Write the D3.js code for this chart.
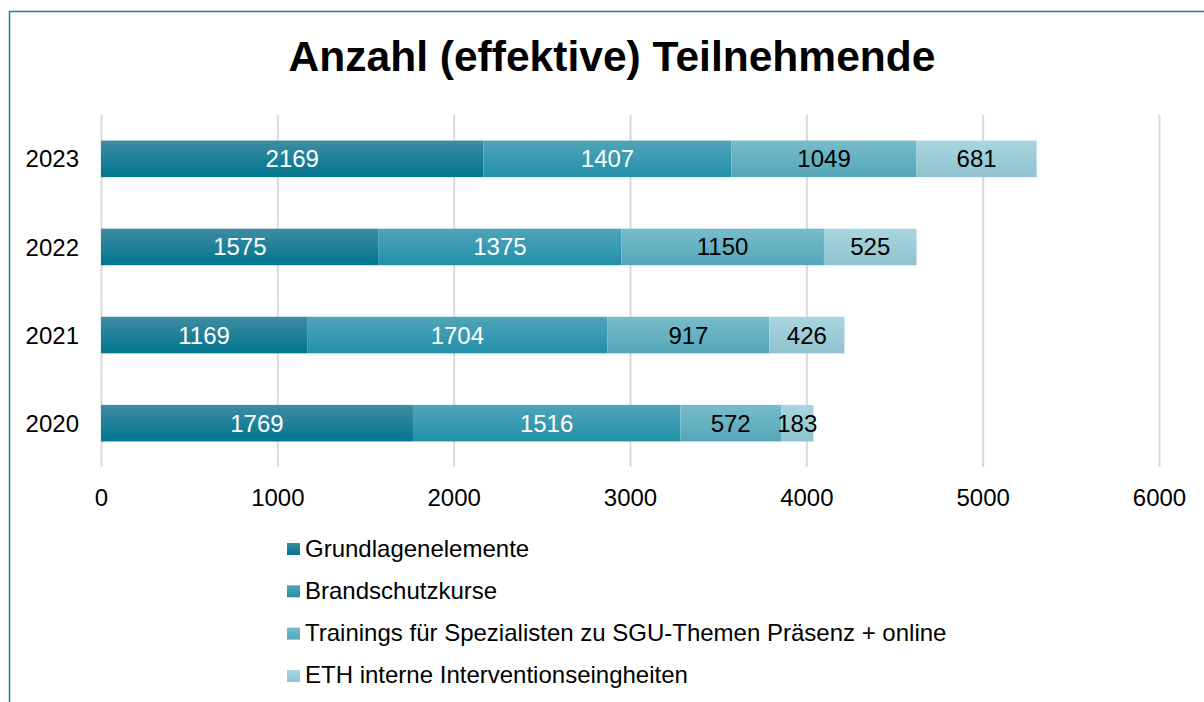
<!DOCTYPE html>
<html>
<head>
<meta charset="utf-8">
<script src="https://cdn.jsdelivr.net/npm/d3@7"></script>
<style>
  body { margin: 0; background: #fff; }
  svg text { font-family: "Liberation Sans", Arial, sans-serif; }
</style>
</head>
<body>
<div id="chart"></div>
<script>
// data
var years = ["2023", "2022", "2021", "2020"];
var seriesNames = ["Grundlagenelemente", "Brandschutzkurse",
  "Trainings für Spezialisten zu SGU-Themen Präsenz + online",
  "ETH interne Interventionseingheiten"];
var grundlagen = [2169, 1575, 1169, 1769];
var brandschutz = [1407, 1375, 1704, 1516];
var trainings = [1049, 1150, 917, 572];
var eth = [681, 525, 426, 183];
var xTicks = [0, 1000, 2000, 3000, 4000, 5000, 6000];

// colours: top / bottom of each gradient, label colour
var tops = ["#3f8ca2", "#4fa5b9", "#77bccb", "#a9d6e0"];
var bottoms = ["#00758f", "#2290a8", "#55a7ba", "#8fc3ce"];
var labelCol = ["#fff", "#fff", "#000", "#000"];

var width = 1204, height = 702;
var margin = {top: 115, left: 101, right: 45, bottom: 235};

var svg = d3.select("#chart").append("svg")
    .attr("width", width).attr("height", height);

var defs = svg.append("defs");
tops.forEach(function(c, i) {
  var g = defs.append("linearGradient").attr("id", "grad" + i)
      .attr("x1", 0).attr("y1", 0).attr("x2", 0).attr("y2", 1);
  g.append("stop").attr("offset", "0%").attr("stop-color", c);
  g.append("stop").attr("offset", "100%").attr("stop-color", bottoms[i]);
});

// outer frame (only left and top visible)
svg.append("rect").attr("x", 9.5).attr("y", 11.5)
    .attr("width", 1300).attr("height", 800)
    .attr("fill", "none").attr("stroke", "#1a7f9c").attr("stroke-width", 1.5);

svg.append("text").attr("x", 612).attr("y", 71)
    .attr("text-anchor", "middle").attr("font-size", 42).attr("font-weight", "bold")
    .attr("textLength", 647).attr("lengthAdjust", "spacingAndGlyphs")
    .text("Anzahl (effektive) Teilnehmende");

var x = d3.scaleLinear().domain([0, 6000]).range([margin.left, 1159]);
var y = d3.scaleBand().domain(years).range([margin.top, 467]).paddingInner(0.585).paddingOuter(0.29);

// gridlines
svg.append("g").selectAll("line").data(xTicks).join("line")
    .attr("x1", d => x(d) + 0.5).attr("x2", d => x(d) + 0.5)
    .attr("y1", margin.top).attr("y2", 467)
    .attr("stroke", "#d9d9d9").attr("stroke-width", 2);

var xAxis = d3.axisBottom(x).tickValues(xTicks).tickFormat(d3.format("d")).tickSize(0).tickPadding(0);
var gx = svg.append("g").attr("transform", "translate(0,506)").call(xAxis);
gx.select(".domain").remove();
gx.selectAll("text").attr("font-size", 24).attr("fill", "#000").attr("dy", 0)
    .style("font-family", "Liberation Sans, Arial, sans-serif");

var yAxis = d3.axisLeft(y).tickSize(0).tickPadding(22);
var gy = svg.append("g").attr("transform", "translate(" + margin.left + ",0)").call(yAxis);
gy.select(".domain").remove();
gy.selectAll("text").attr("font-size", 24).attr("fill", "#000").attr("dy", "0.36em")
    .style("font-family", "Liberation Sans, Arial, sans-serif");

var rows = years.map(function(yr, i) {
  return {year: yr, v: [grundlagen[i], brandschutz[i], trainings[i], eth[i]]};
});
var stack = d3.stack().keys([0, 1, 2, 3]).value((d, k) => d.v[k]);
var layers = stack(rows);

var lg = svg.append("g").selectAll("g").data(layers).join("g")
    .attr("fill", (d, i) => "url(#grad" + i + ")");
lg.selectAll("rect").data(d => d).join("rect")
    .attr("x", d => x(d[0])).attr("width", d => x(d[1]) - x(d[0]))
    .attr("y", d => y(d.data.year)).attr("height", y.bandwidth());

var lbl = svg.append("g").selectAll("g").data(layers).join("g")
    .attr("fill", (d, i) => labelCol[i]);
lbl.selectAll("text").data(d => d).join("text")
    .attr("x", d => (x(d[0]) + x(d[1])) / 2)
    .attr("y", d => y(d.data.year) + y.bandwidth() / 2 + 8.5)
    .attr("text-anchor", "middle").attr("font-size", 24)
    .text(d => d[1] - d[0]);

// legend
var leg = svg.append("g").selectAll("g").data(seriesNames).join("g")
    .attr("transform", (d, i) => "translate(287," + (549 + i * 42.3) + ")");
leg.append("rect").attr("x", 0).attr("y", -6).attr("width", 13).attr("height", 12)
    .attr("fill", (d, i) => "url(#grad" + i + ")");
leg.append("text").attr("x", 18).attr("y", 7.5).attr("font-size", 24).text(d => d);
</script>
</body>
</html>
